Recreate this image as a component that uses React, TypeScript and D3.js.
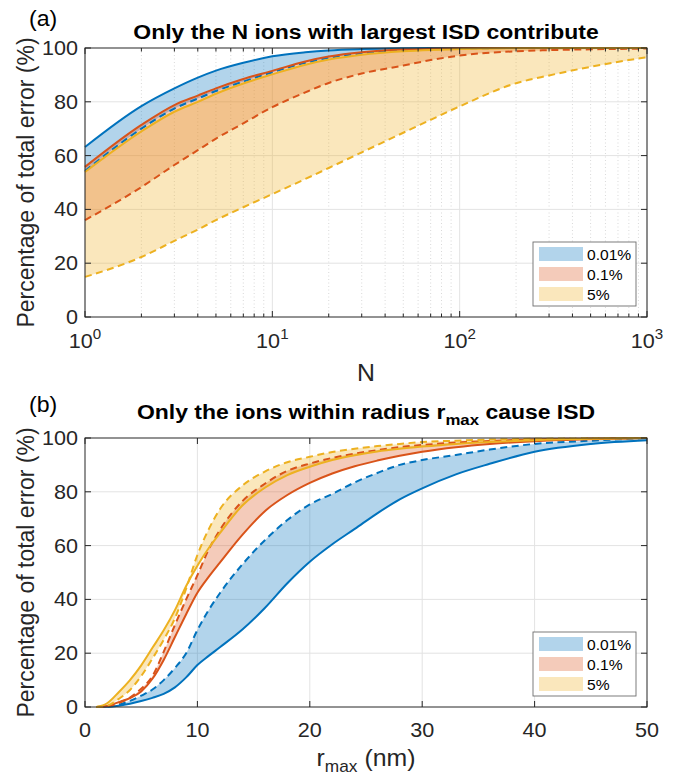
import React from 'react';
import * as d3 from 'd3';

// ---------- Data ----------
const LEGEND_LABELS = ['0.01%', '0.1%', '5%'];
const COLORS = ['#0072BD', '#D95319', '#EDB120'];

// Panel (a): N ions with largest ISD
const N_VALUES = [1, 2, 3, 4, 5, 7, 10, 15, 20, 30, 50, 70, 100, 200, 300, 500, 1000];
const A_SOLID_001 = [63.2, 78.4, 85.0, 89.0, 91.6, 94.5, 96.9, 98.4, 99.1, 99.6, 99.9, 100, 100, 100, 100, 100, 100];
const A_DASH_001 = [54.3, 70.0, 77.5, 81.2, 84.0, 87.5, 91.0, 94.5, 96.3, 98.0, 99.2, 99.6, 99.8, 100, 100, 100, 100];
const A_SOLID_01 = [55.8, 71.4, 78.8, 82.3, 85.0, 88.5, 91.5, 95.0, 96.8, 98.4, 99.4, 99.7, 99.9, 100, 100, 100, 100];
const A_DASH_01 = [36.0, 48.3, 56.5, 62.0, 66.3, 72.0, 78.0, 83.5, 87.0, 90.5, 93.5, 95.5, 97.2, 98.8, 99.2, 99.5, 99.8];
const A_SOLID_5 = [53.9, 69.0, 76.3, 80.0, 83.0, 86.8, 90.2, 93.8, 95.7, 97.5, 98.8, 99.3, 99.6, 99.9, 100, 100, 100];
const A_DASH_5 = [14.9, 22.3, 28.3, 32.5, 36.0, 40.8, 45.7, 51.3, 55.4, 61.2, 68.5, 73.3, 78.3, 86.9, 89.8, 93.0, 96.6];

// Panel (b): ions within radius r_max (nm)
const R_VALUES = [1, 2, 3, 4, 5, 6, 7, 8, 9, 10, 11, 12, 14, 16, 18, 20, 22, 24, 26, 28, 30, 33, 36, 40, 45, 50];
const B_SOLID_001 = [0, 0.1, 0.5, 1.2, 2.2, 3.4, 4.9, 7.3, 11, 15.6, 19, 22.2, 28.8, 36.8, 46, 54, 60.5, 66.2, 72, 77.2, 81.3, 86.5, 90.4, 94.9, 97.8, 99.2];
const B_DASH_001 = [0, 0.1, 0.8, 2.3, 4.2, 6.5, 10, 14.5, 20, 28.6, 36, 42.3, 53, 62, 69.5, 75.3, 79.2, 83.5, 87, 90, 91.8, 93.7, 95.7, 97.8, 99, 100];
const B_SOLID_01 = [0, 0.4, 1.8, 3.3, 5.8, 10.5, 17.5, 26, 34.5, 42.5, 48.4, 53.7, 64, 72.8, 78.8, 83.3, 86.8, 89.5, 91.6, 93.4, 94.9, 96.6, 97.8, 98.8, 99.5, 100];
const B_DASH_01 = [0, 0.3, 1.5, 3.5, 6.8, 11.5, 20.5, 30.5, 40, 49, 58.5, 65.8, 76.5, 83, 87.8, 90.5, 92.6, 94.2, 95.5, 96.6, 97.4, 98.3, 98.9, 99.5, 99.8, 100];
const B_SOLID_5 = [0, 1.5, 5.5, 10, 15.5, 22, 28.5, 36, 45, 52.5, 59, 64.6, 74.9, 81.5, 86.2, 89.3, 91.8, 93.6, 95, 96, 96.8, 97.8, 98.5, 99.2, 99.7, 100];
const B_DASH_5 = [0, 0.5, 3, 6.3, 11.5, 18, 25, 33, 44, 56.5, 66, 73.5, 82.3, 87.5, 91, 93, 94.8, 96, 97, 97.8, 98.5, 99, 99.4, 99.7, 99.9, 100];

const Y_TICKS = [0, 20, 40, 60, 80, 100];
const Y_GRID = [20, 40, 60, 80];
const A_X_TICKS = [1, 10, 100, 1000];
const A_X_EXP = ['0', '1', '2', '3'];
const B_X_TICKS = [0, 10, 20, 30, 40, 50];

// ---------- Layout ----------
const W = 675;
const H = 776;
const LEFT = 85;
const RIGHT = 647;
const A_TOP = 48;
const A_BOT = 317;
const B_TOP = 438;
const B_BOT = 707;
const FONT = '"Liberation Sans", Arial, Helvetica, sans-serif';
const AX = '#262626';
const SX = 1.08;

const minorTicks: number[] = [];
for (let d = 0; d < 3; d++) for (let m = 2; m <= 9; m++) minorTicks.push(m * Math.pow(10, d));

function Txt(props: any) {
  const { x, y, size, anchor = 'start', weight = 'normal', sx = SX, fill = AX, children } = props;
  return (
    <text
      transform={`translate(${x},${y}) scale(${sx},1)`}
      fontSize={size}
      textAnchor={anchor}
      fontWeight={weight}
      fill={fill}
      fontFamily={FONT}
    >
      {children}
    </text>
  );
}

type Series = { xs: number[]; solid: number[]; dashed: number[]; color: string };

function Fills({ series, x, y }: { series: Series[]; x: any; y: any }) {
  return (
    <g>
      {series.map((s, i) => {
        const pts = s.xs.map((xv, k) => ({ x: xv, a: s.dashed[k], b: s.solid[k] }));
        const area = d3
          .area<any>()
          .x((d) => x(d.x))
          .y0((d) => y(d.a))
          .y1((d) => y(d.b))
          .curve(d3.curveMonotoneX);
        return <path key={i} d={area(pts) || ''} fill={s.color} fillOpacity={0.3} stroke="none" />;
      })}
    </g>
  );
}

function Lines({ series, x, y }: { series: Series[]; x: any; y: any }) {
  const mk = (xs: number[], vs: number[]) =>
    d3
      .line<number>()
      .x((_, k) => x(xs[k]))
      .y((v) => y(v))
      .curve(d3.curveMonotoneX)(vs) || '';
  return (
    <g>
      {series.map((s, i) => (
        <g key={i}>
          <path d={mk(s.xs, s.dashed)} fill="none" stroke={s.color} strokeWidth={2} strokeDasharray="7,4.5" />
          <path d={mk(s.xs, s.solid)} fill="none" stroke={s.color} strokeWidth={2} />
        </g>
      ))}
    </g>
  );
}

function Legend({ x0, y0 }: { x0: number; y0: number }) {
  return (
    <g>
      <rect x={x0} y={y0} width={103} height={64} fill="#fff" stroke="#6e6e6e" strokeWidth={0.9} />
      {LEGEND_LABELS.map((lab, i) => (
        <g key={i}>
          <rect x={x0 + 6} y={y0 + 5 + i * 20} width={44} height={14} fill={COLORS[i]} fillOpacity={0.3} />
          <Txt x={x0 + 54} y={y0 + 17.5 + i * 20} size={15} sx={1.04} fill="#000">
            {lab}
          </Txt>
        </g>
      ))}
    </g>
  );
}

function YAxis({ y, top, bot }: { y: any; top: number; bot: number }) {
  return (
    <g>
      {Y_TICKS.map((t) => (
        <g key={t}>
          <line x1={LEFT} x2={LEFT + 6} y1={y(t)} y2={y(t)} stroke={AX} />
          <line x1={RIGHT} x2={RIGHT - 6} y1={y(t)} y2={y(t)} stroke={AX} />
          <Txt x={LEFT - 7} y={y(t) + 7} size={20} anchor="end">
            {t}
          </Txt>
        </g>
      ))}
      <text
        transform={`translate(34,${(top + bot) / 2}) rotate(-90)`}
        fontSize={23}
        textAnchor="middle"
        fill={AX}
        fontFamily={FONT}
      >
        Percentage of total error (%)
      </text>
    </g>
  );
}

export default function App() {
  const xA = d3.scaleLog().domain([1, 1000]).range([LEFT, RIGHT]);
  const yA = d3.scaleLinear().domain([0, 100]).range([A_BOT, A_TOP]);
  const xB = d3.scaleLinear().domain([0, 50]).range([LEFT, RIGHT]);
  const yB = d3.scaleLinear().domain([0, 100]).range([B_BOT, B_TOP]);

  const seriesA: Series[] = [
    { xs: N_VALUES, solid: A_SOLID_001, dashed: A_DASH_001, color: COLORS[0] },
    { xs: N_VALUES, solid: A_SOLID_01, dashed: A_DASH_01, color: COLORS[1] },
    { xs: N_VALUES, solid: A_SOLID_5, dashed: A_DASH_5, color: COLORS[2] },
  ];
  const seriesB: Series[] = [
    { xs: R_VALUES, solid: B_SOLID_001, dashed: B_DASH_001, color: COLORS[0] },
    { xs: R_VALUES, solid: B_SOLID_01, dashed: B_DASH_01, color: COLORS[1] },
    { xs: R_VALUES, solid: B_SOLID_5, dashed: B_DASH_5, color: COLORS[2] },
  ];

  const cx = (LEFT + RIGHT) / 2;

  return (
    <svg width={W} height={H} style={{ position: 'absolute', left: 0, top: 0, background: '#fff' }}>
      <rect x={0} y={0} width={W} height={H} fill="#fff" />

      {/* ---------- Panel (a) ---------- */}
      <g>
        {minorTicks.map((t) => (
          <line key={t} x1={xA(t)} x2={xA(t)} y1={A_TOP} y2={A_BOT} stroke="#cfcfcf" strokeWidth={0.8} strokeDasharray="1,2.5" />
        ))}
        {A_X_TICKS.map((t) => (
          <line key={t} x1={xA(t)} x2={xA(t)} y1={A_TOP} y2={A_BOT} stroke="#e3e3e3" strokeWidth={1} />
        ))}
        {Y_GRID.map((t) => (
          <line key={t} x1={LEFT} x2={RIGHT} y1={yA(t)} y2={yA(t)} stroke="#e3e3e3" strokeWidth={1} />
        ))}
        <Fills series={seriesA} x={xA} y={yA} />
        <Lines series={seriesA} x={xA} y={yA} />
        <rect x={LEFT} y={A_TOP} width={RIGHT - LEFT} height={A_BOT - A_TOP} fill="none" stroke={AX} strokeWidth={1} />
        {minorTicks.map((t) => (
          <g key={t}>
            <line x1={xA(t)} x2={xA(t)} y1={A_BOT} y2={A_BOT - 3.5} stroke={AX} />
            <line x1={xA(t)} x2={xA(t)} y1={A_TOP} y2={A_TOP + 3.5} stroke={AX} />
          </g>
        ))}
        {A_X_TICKS.map((t, i) => (
          <g key={t}>
            <line x1={xA(t)} x2={xA(t)} y1={A_BOT} y2={A_BOT - 6} stroke={AX} />
            <line x1={xA(t)} x2={xA(t)} y1={A_TOP} y2={A_TOP + 6} stroke={AX} />
            <Txt x={xA(t)} y={A_BOT + 31} size={20} anchor="middle">
              10<tspan dy={-9} fontSize={14}>{A_X_EXP[i]}</tspan>
            </Txt>
          </g>
        ))}
        <YAxis y={yA} top={A_TOP} bot={A_BOT} />
        <Txt x={cx} y={381} size={23} anchor="middle">
          N
        </Txt>
        <Txt x={cx} y={39} size={20.5} anchor="middle" weight="bold" fill="#000" sx={1.12}>
          Only the N ions with largest ISD contribute
        </Txt>
        <Txt x={29} y={26} size={22} fill="#000" sx={1.05}>
          (a)
        </Txt>
        <Legend x0={533} y0={242} />
      </g>

      {/* ---------- Panel (b) ---------- */}
      <g>
        {B_X_TICKS.filter((t) => t > 0 && t < 50).map((t) => (
          <line key={t} x1={xB(t)} x2={xB(t)} y1={B_TOP} y2={B_BOT} stroke="#e3e3e3" strokeWidth={1} />
        ))}
        {Y_GRID.map((t) => (
          <line key={t} x1={LEFT} x2={RIGHT} y1={yB(t)} y2={yB(t)} stroke="#e3e3e3" strokeWidth={1} />
        ))}
        <Fills series={seriesB} x={xB} y={yB} />
        <Lines series={seriesB} x={xB} y={yB} />
        <rect x={LEFT} y={B_TOP} width={RIGHT - LEFT} height={B_BOT - B_TOP} fill="none" stroke={AX} strokeWidth={1} />
        {B_X_TICKS.map((t) => (
          <g key={t}>
            <line x1={xB(t)} x2={xB(t)} y1={B_BOT} y2={B_BOT - 6} stroke={AX} />
            <line x1={xB(t)} x2={xB(t)} y1={B_TOP} y2={B_TOP + 6} stroke={AX} />
            <Txt x={xB(t)} y={B_BOT + 30} size={20} anchor="middle">
              {t}
            </Txt>
          </g>
        ))}
        <YAxis y={yB} top={B_TOP} bot={B_BOT} />
        <Txt x={cx} y={766} size={23} anchor="middle">
          r<tspan dy={6} fontSize={16}>max</tspan>
          <tspan dy={-6}> (nm)</tspan>
        </Txt>
        <Txt x={cx} y={419} size={20.5} anchor="middle" weight="bold" fill="#000" sx={1.12}>
          Only the ions within radius r<tspan dy={6} fontSize={15}>max</tspan>
          <tspan dy={-6}> cause ISD</tspan>
        </Txt>
        <Txt x={29} y={412} size={22} fill="#000" sx={1.05}>
          (b)
        </Txt>
        <Legend x0={533} y0={632} />
      </g>
    </svg>
  );
}
